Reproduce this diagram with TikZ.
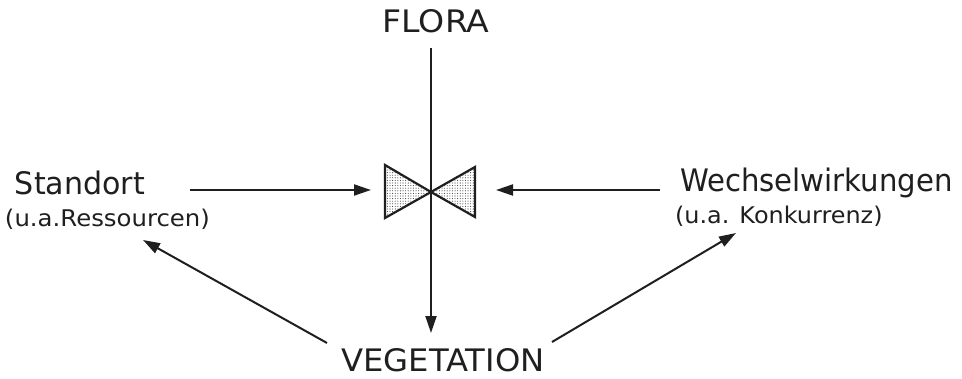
\documentclass[tikz,border=0pt]{standalone}
\usepackage{fontspec}
\setmainfont{DejaVu Sans}
\usetikzlibrary{arrows.meta,patterns.meta}
\begin{document}
\begin{tikzpicture}[x=1pt,y=1pt,
  lbl/.style={inner sep=0pt, outer sep=0pt, text=black!88},
  big/.style={lbl, font=\fontsize{31}{31}\selectfont},
  small/.style={lbl, font=\fontsize{23}{23}\selectfont},
  conn/.style={line width=2pt, black!88, -{Triangle[length=17pt,width=11pt]}},
  wing/.style={line width=2.2pt, draw=black!88, line join=miter,
    pattern={Dots[radius=0.55pt,distance=2.6pt]}, pattern color=black!75}
]
\useasboundingbox (0,0) rectangle (962,378);
% texts
\node[big, anchor=base] (flora) at (436,345) {\scalebox{1.07}[1]{FLORA}};
\node[big, anchor=base west] (standort) at (15,183) {\scalebox{0.97}[1]{Standort}};
\node[small, anchor=base west] (ress) at (5,151) {\scalebox{1.06}[1]{(u.a.Ressourcen)}};
\node[big, anchor=base west] (wechsel) at (680,186) {\scalebox{0.94}[1]{Wechselwirkungen}};
\node[small, anchor=base west] (konk) at (675,154) {\scalebox{1.04}[1]{(u.a. Konkurrenz)}};
\node[big, anchor=base] (veg) at (443,7) {\scalebox{1.04}[1]{VEGETATION}};
% bow tie
\coordinate (apex) at (431,186);
\draw[wing] (385,213) -- (385,160) -- (apex) -- cycle;
\draw[wing] (475,211) -- (475,161) -- (apex) -- cycle;
% connector endpoints
\coordinate (vtop) at (431,330);
\coordinate (vtip) at (431,45);
\coordinate (ltail) at (190,188);
\coordinate (ltip) at (371,188);
\coordinate (rtail) at (660,188);
\coordinate (rtip) at (496,188);
\coordinate (dltail) at (327,35);
\coordinate (dltip) at (143,138);
\coordinate (drtail) at (552,36);
\coordinate (drtip) at (736,145);
% connectors
\draw[conn] (vtop) -- (vtip);
\draw[conn] (ltail) -- (ltip);
\draw[conn] (rtail) -- (rtip);
\draw[conn] (dltail) -- (dltip);
\draw[conn] (drtail) -- (drtip);
\end{tikzpicture}
\end{document}
